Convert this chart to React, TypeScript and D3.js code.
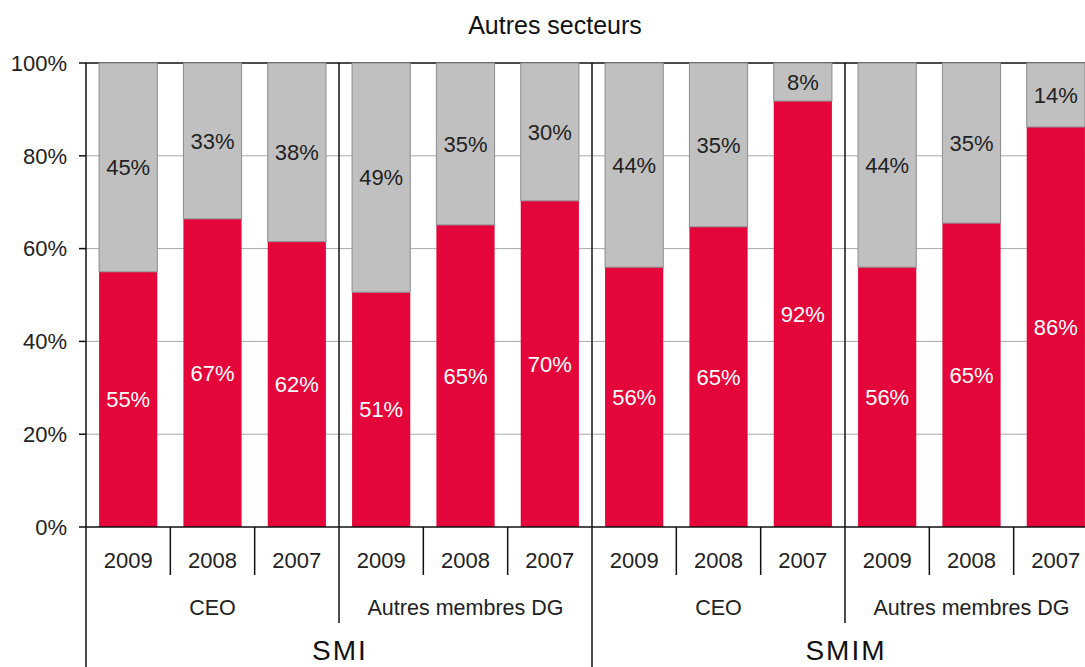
import React from "react";
import * as d3 from "d3";

const title = "Autres secteurs";
const indexNames = ["SMI", "SMIM"];
const roleNames = ["CEO", "Autres membres DG"];
const yearNames = ["2009", "2008", "2007"];
// share of the red segment (%) per bar
const redShare = [55.0, 66.4, 61.5, 50.6, 65.1, 70.3, 56.0, 64.7, 91.8, 56.0, 65.5, 86.2];
// printed labels
const redLabels = [55, 67, 62, 51, 65, 70, 56, 65, 92, 56, 65, 86];
const grayLabels = [45, 33, 38, 49, 35, 30, 44, 35, 8, 44, 35, 14];
const yTicks = [0, 20, 40, 60, 80, 100];

const W = 1085;
const H = 667;
const left = 86;
const right = 1098;
const top = 63;
const bottom = 527;
const RED = "#e4063b";
const GRAY = "#c0c0c0";
const FONT = "'Liberation Sans', Arial, sans-serif";
const FS = 22;
const CAP = FS * 0.716;

export default function App() {
  const bars = redShare.map((r, i) => ({
    i,
    red: r,
    gray: 100 - r,
    redLabel: redLabels[i],
    grayLabel: grayLabels[i],
    year: yearNames[i % 3],
  }));
  const x = d3.scaleBand<number>().domain(bars.map((b) => b.i)).range([left, right]).paddingInner(0.31).paddingOuter(0.155);
  const step = x.step();
  const y = d3.scaleLinear().domain([0, 100]).range([bottom, top]);
  const stack = d3.stack<any>().keys(["red", "gray"])(bars as any);
  const edge = (i: number) => left + i * step;
  const cx = (i: number) => x(i)! + x.bandwidth() / 2;

  return (
    <svg width={W} height={H} style={{ position: "absolute", left: 0, top: 0 }} fontFamily={FONT}>
      <rect width={W} height={H} fill="#fff" />
      <text x={555} y={34} textAnchor="middle" fontSize={25} fill="#111">
        {title}
      </text>
      {/* gridlines */}
      {yTicks.filter((t) => t > 0 && t < 100).map((t) => (
        <line key={t} x1={left} x2={right} y1={y(t)} y2={y(t)} stroke="#a8a8a8" strokeWidth={1} />
      ))}
      <line x1={left} x2={right} y1={y(100)} y2={y(100)} stroke="#111" strokeWidth={1.5} />
      {/* bars */}
      {stack.map((layer, li) =>
        layer.map((d, i) => (
          <rect
            key={li + "-" + i}
            x={x(i)}
            width={x.bandwidth()}
            y={y(d[1])}
            height={y(d[0]) - y(d[1])}
            fill={li === 0 ? RED : GRAY}
            stroke={li === 0 ? "none" : "#8c8c8c"}
            strokeWidth={1}
          />
        ))
      )}
      {/* group separators inside plot */}
      {[3, 6, 9].map((k) => (
        <line key={k} x1={edge(k)} x2={edge(k)} y1={top} y2={bottom} stroke="#111" strokeWidth={1.5} />
      ))}
      {/* value labels */}
      {bars.map((b) => (
        <g key={"l" + b.i}>
          <text x={cx(b.i)} y={(y(0) + y(b.red)) / 2 + CAP / 2} textAnchor="middle" fontSize={FS} fill="#fff">
            {b.redLabel + "%"}
          </text>
          <text x={cx(b.i)} y={(y(b.red) + y(100)) / 2 + CAP / 2} textAnchor="middle" fontSize={FS} fill="#222">
            {b.grayLabel + "%"}
          </text>
        </g>
      ))}
      {/* y axis */}
      <line x1={left} x2={left} y1={top} y2={H} stroke="#111" strokeWidth={1.5} />
      {yTicks.map((t) => (
        <g key={"y" + t}>
          <line x1={left - 7} x2={left} y1={y(t)} y2={y(t)} stroke="#111" strokeWidth={1.5} />
          <text x={67} y={y(t) + CAP / 2} textAnchor="end" fontSize={FS} fill="#222">
            {t + "%"}
          </text>
        </g>
      ))}
      {/* x axis */}
      <line x1={left} x2={right} y1={bottom} y2={bottom} stroke="#111" strokeWidth={1.5} />
      {bars.map((b) => (
        <text key={"yr" + b.i} x={cx(b.i)} y={567.5} textAnchor="middle" fontSize={FS} fill="#222">
          {b.year}
        </text>
      ))}
      {d3.range(1, 12).map((k) => {
        const y2 = k % 6 === 0 ? H : k % 3 === 0 ? 623 : 575;
        return <line key={"t" + k} x1={edge(k)} x2={edge(k)} y1={bottom} y2={y2} stroke="#111" strokeWidth={1.5} />;
      })}
      {d3.range(4).map((g) => (
        <text key={"r" + g} x={edge(g * 3 + 1.5)} y={614.5} textAnchor="middle" fontSize={21.5} fill="#222">
          {roleNames[g % 2]}
        </text>
      ))}
      {indexNames.map((n, k) => (
        <text key={n} x={edge(k * 6 + 3) + 1} y={660} textAnchor="middle" fontSize={28} letterSpacing={2} fill="#111">
          {n}
        </text>
      ))}
    </svg>
  );
}
